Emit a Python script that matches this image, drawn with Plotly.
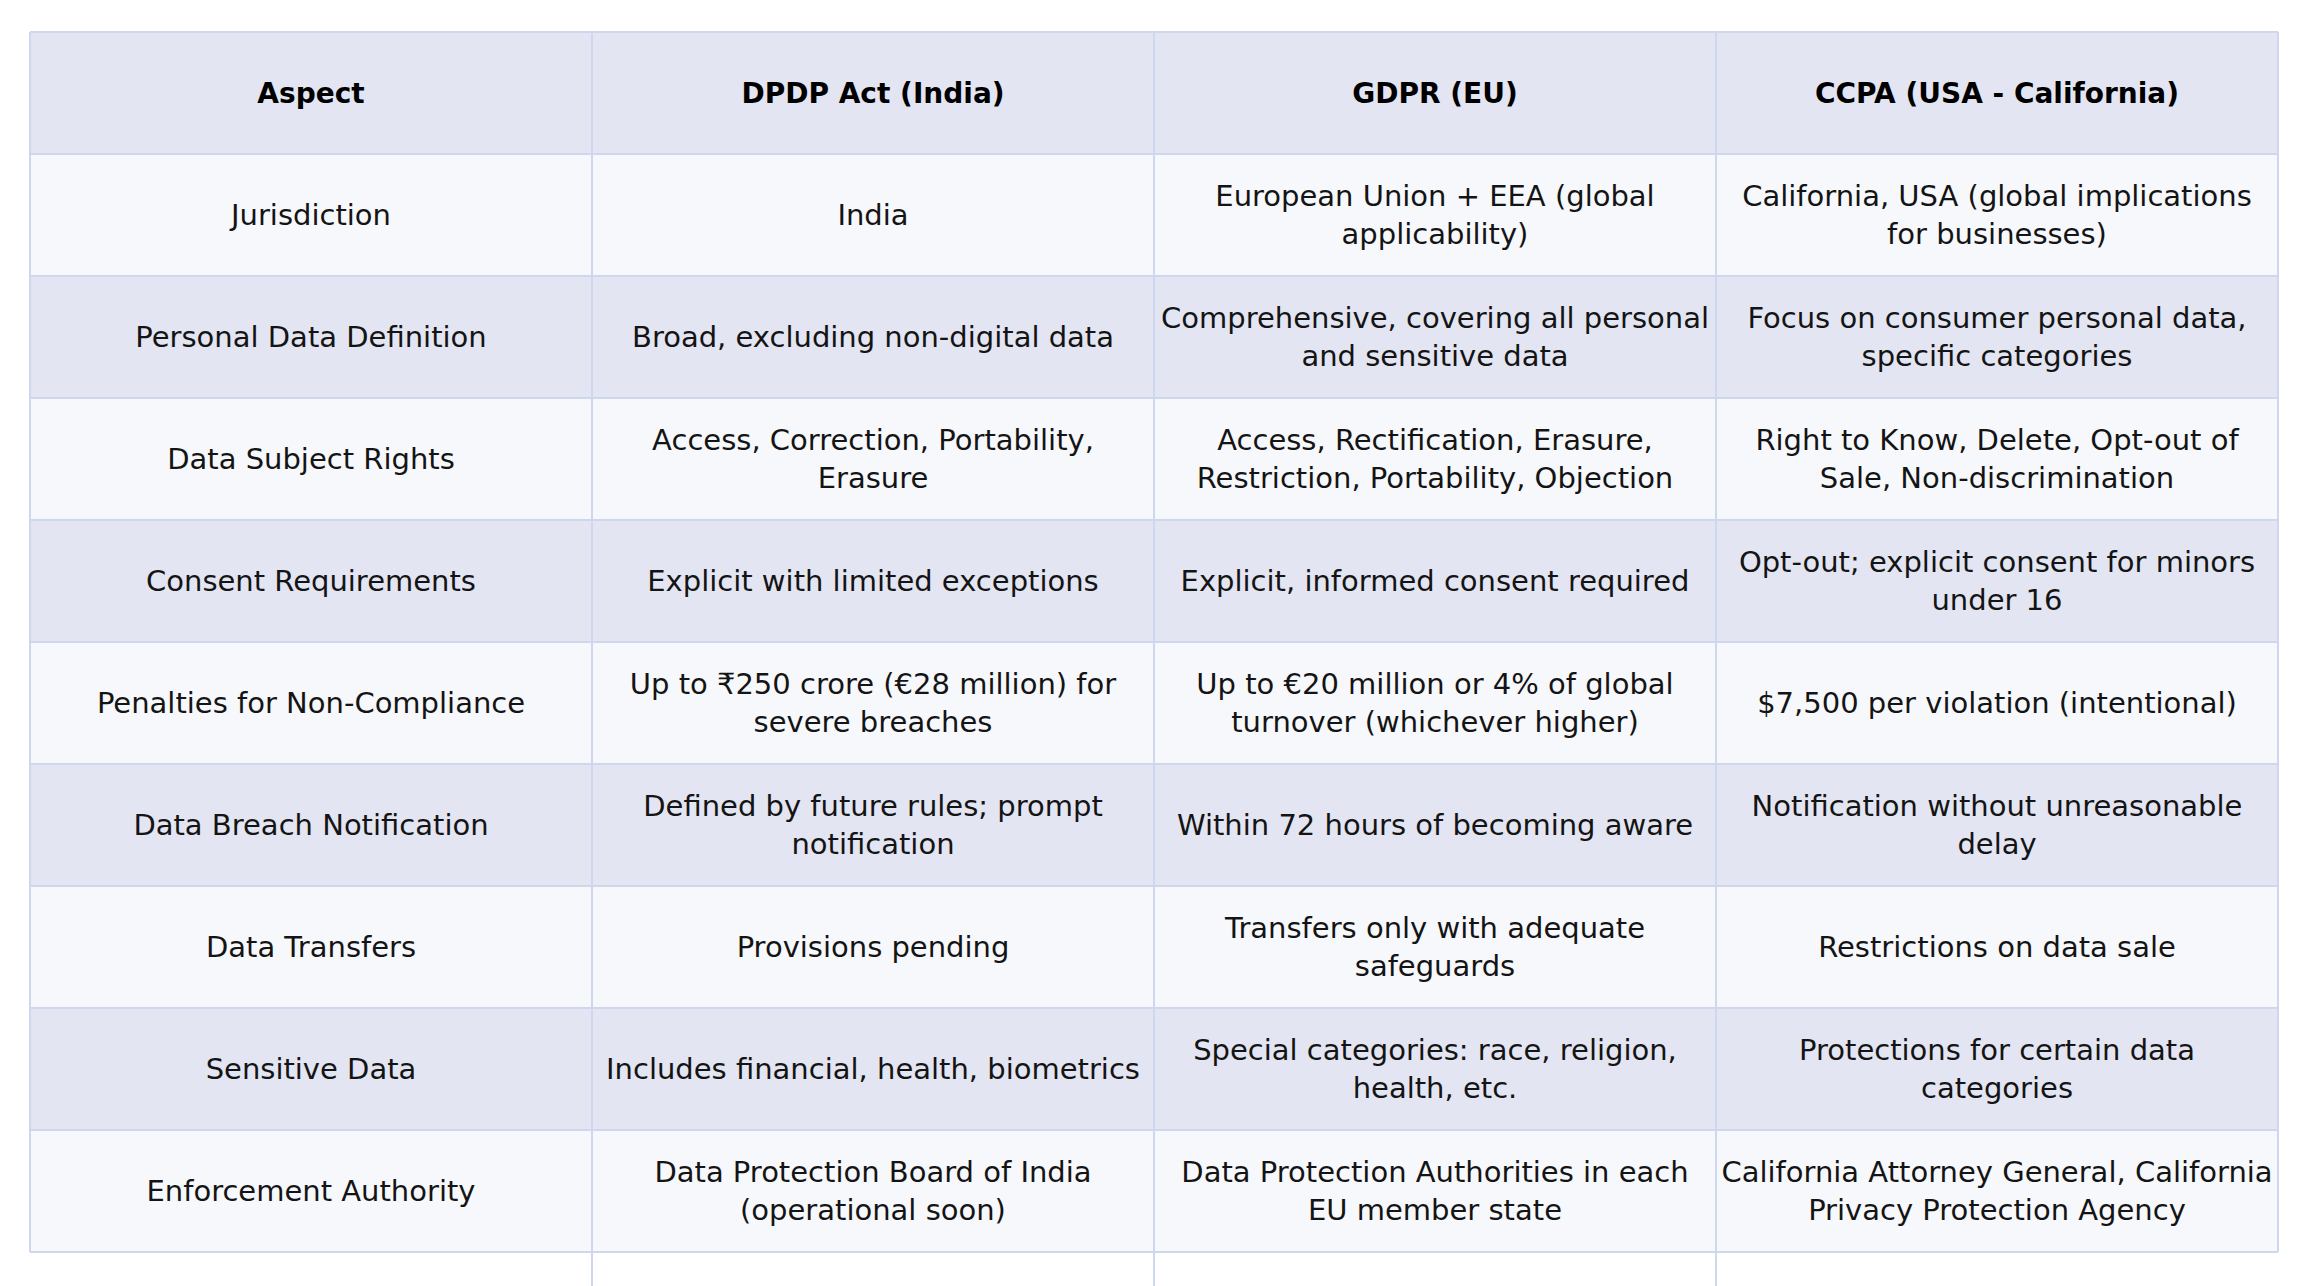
import plotly.graph_objects as go

header = ["Aspect", "DPDP Act (India)", "GDPR (EU)", "CCPA (USA - California)"]

aspects = [
    "Jurisdiction",
    "Personal Data Definition",
    "Data Subject Rights",
    "Consent Requirements",
    "Penalties for Non-Compliance",
    "Data Breach Notification",
    "Data Transfers",
    "Sensitive Data",
    "Enforcement Authority",
]

dpdp = [
    "India",
    "Broad, excluding non-digital data",
    "Access, Correction, Portability,<br>Erasure",
    "Explicit with limited exceptions",
    "Up to ₹250 crore (€28 million) for<br>severe breaches",
    "Defined by future rules; prompt<br>notification",
    "Provisions pending",
    "Includes financial, health, biometrics",
    "Data Protection Board of India<br>(operational soon)",
]

gdpr = [
    "European Union + EEA (global<br>applicability)",
    "Comprehensive, covering all personal<br>and sensitive data",
    "Access, Rectification, Erasure,<br>Restriction, Portability, Objection",
    "Explicit, informed consent required",
    "Up to €20 million or 4% of global<br>turnover (whichever higher)",
    "Within 72 hours of becoming aware",
    "Transfers only with adequate<br>safeguards",
    "Special categories: race, religion,<br>health, etc.",
    "Data Protection Authorities in each<br>EU member state",
]

ccpa = [
    "California, USA (global implications<br>for businesses)",
    "Focus on consumer personal data,<br>specific categories",
    "Right to Know, Delete, Opt-out of<br>Sale, Non-discrimination",
    "Opt-out; explicit consent for minors<br>under 16",
    "$7,500 per violation (intentional)",
    "Notification without unreasonable<br>delay",
    "Restrictions on data sale",
    "Protections for certain data<br>categories",
    "California Attorney General, California<br>Privacy Protection Agency",
]

LIGHT = "#F7F8FC"
BAND = "#E3E5F2"
LINE = "#CFD7EE"
FONT = "DejaVu Sans, Inter, sans-serif"
FS = 29
FS_HEAD = 28

columns = [aspects, dpdp, gdpr, ccpa]
n_cols = len(header)
n_rows = len(aspects) + 1  # including header row

# geometry in pixels (layout only)
W, H = 2308, 1286
LEFT, RIGHT_EDGE, TOP = 22, 2270, 24
ROW_PX = 122
COL_PX = (RIGHT_EDGE - LEFT) / n_cols
PAD = 2  # px of room for border lines
TEXT_DY = 3 / ROW_PX  # small downward nudge of text within cells

x_lo = -0.5 - PAD / COL_PX
x_hi = n_cols - 0.5 + PAD / COL_PX
y_top = -0.5 - PAD / ROW_PX
plot_h_px = H - (TOP - PAD)
y_bottom = y_top + plot_h_px / ROW_PX

fig = go.Figure()

# cell fills: 0 = banded (header + even data rows), 1 = light
z = []
for r in range(n_rows):
    val = 0 if (r == 0 or r % 2 == 0) else 1
    z.append([val] * n_cols)

fig.add_trace(
    go.Heatmap(
        z=z,
        x=list(range(n_cols)),
        y=list(range(n_rows)),
        colorscale=[[0, BAND], [1, LIGHT]],
        zmin=0,
        zmax=1,
        showscale=False,
        hoverinfo="skip",
    )
)

# grid lines
lx, ly = [], []
for r in range(n_rows + 1):
    lx += [-0.5, n_cols - 0.5, None]
    ly += [r - 0.5, r - 0.5, None]
for c in range(n_cols + 1):
    xv = c - 0.5
    if c in (0, n_cols):
        lx += [xv, xv, None]
        ly += [-0.5, n_rows - 0.5, None]
    else:
        lx += [xv, xv, None]
        ly += [-0.5, y_bottom + 1, None]

fig.add_trace(
    go.Scatter(
        x=lx,
        y=ly,
        mode="lines",
        line=dict(color=LINE, width=2),
        hoverinfo="skip",
        showlegend=False,
    )
)

# header text
fig.add_trace(
    go.Scatter(
        x=list(range(n_cols)),
        y=[0 + TEXT_DY] * n_cols,
        mode="text",
        text=[f"<b>{h}</b>" for h in header],
        textposition="middle center",
        textfont=dict(family=FONT, size=FS_HEAD, color="#000000"),
        hoverinfo="skip",
        showlegend=False,
    )
)

# body text
for c, col in enumerate(columns):
    fig.add_trace(
        go.Scatter(
            x=[c] * len(col),
            y=[r + TEXT_DY for r in range(1, n_rows)],
            mode="text",
            text=col,
            textposition="middle center",
            textfont=dict(family=FONT, size=FS, color="#141414"),
            hoverinfo="skip",
            showlegend=False,
        )
    )

fig.update_xaxes(visible=False, range=[x_lo, x_hi], fixedrange=True)
fig.update_yaxes(visible=False, range=[y_bottom, y_top], fixedrange=True)

fig.update_layout(
    width=W,
    height=H,
    margin=dict(l=LEFT - PAD, r=W - RIGHT_EDGE - PAD, t=TOP - PAD, b=0),
    paper_bgcolor="white",
    plot_bgcolor="white",
    showlegend=False,
)

fig.write_html("out.html")
